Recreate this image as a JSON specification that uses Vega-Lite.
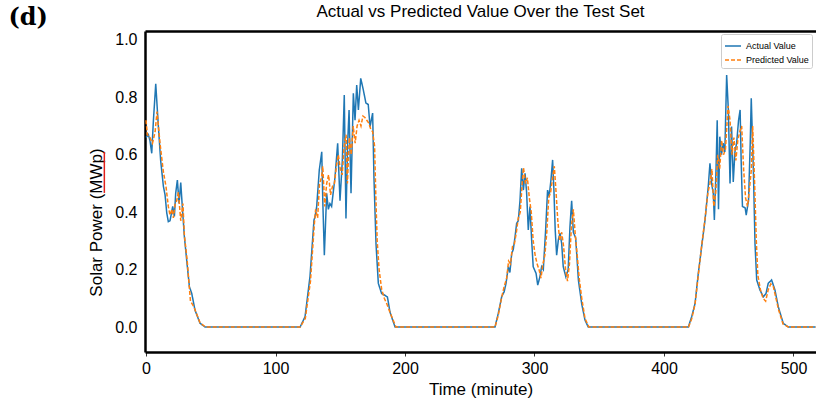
{
  "$schema": "https://vega.github.io/schema/vega-lite/v6.json",
  "width": 671,
  "height": 321,
  "autosize": {"type": "none"},
  "padding": {"left": 145, "top": 31, "right": 0, "bottom": 53},
  "background": "white",
  "config": {"view": {"stroke": null}, "font": "Liberation Sans"},
  "title": {"text": "Actual vs Predicted Value Over the Test Set", "fontSize": 17, "font": "Liberation Sans", "fontWeight": "normal", "color": "black", "offset": -15, "anchor": "middle", "frame": "group"},
  "datasets": {
    "series": [
      {"t":0,"v":0.66,"s":"Actual Value"},{"t":1.8,"v":0.67,"s":"Actual Value"},{"t":3,"v":0.65,"s":"Actual Value"},{"t":4.4,"v":0.605,"s":"Actual Value"},{"t":5.7,"v":0.72,"s":"Actual Value"},{"t":7.5,"v":0.847,"s":"Actual Value"},{"t":9.5,"v":0.7,"s":"Actual Value"},{"t":11.3,"v":0.58,"s":"Actual Value"},{"t":13.4,"v":0.49,"s":"Actual Value"},{"t":14.7,"v":0.46,"s":"Actual Value"},{"t":16,"v":0.397,"s":"Actual Value"},{"t":17.2,"v":0.367,"s":"Actual Value"},{"t":18.5,"v":0.37,"s":"Actual Value"},{"t":20.6,"v":0.42,"s":"Actual Value"},{"t":21.9,"v":0.385,"s":"Actual Value"},{"t":22.9,"v":0.466,"s":"Actual Value"},{"t":24.2,"v":0.512,"s":"Actual Value"},{"t":25.5,"v":0.43,"s":"Actual Value"},{"t":26.8,"v":0.503,"s":"Actual Value"},{"t":28,"v":0.42,"s":"Actual Value"},{"t":29.6,"v":0.315,"s":"Actual Value"},{"t":31.4,"v":0.233,"s":"Actual Value"},{"t":33.5,"v":0.14,"s":"Actual Value"},{"t":35.3,"v":0.117,"s":"Actual Value"},{"t":37.8,"v":0.059,"s":"Actual Value"},{"t":41.7,"v":0.013,"s":"Actual Value"},{"t":45.6,"v":0,"s":"Actual Value"},{"t":119,"v":0,"s":"Actual Value"},
      {"t":122.8,"v":0.036,"s":"Actual Value"},{"t":126.6,"v":0.175,"s":"Actual Value"},{"t":129.7,"v":0.373,"s":"Actual Value"},{"t":130.5,"v":0.384,"s":"Actual Value"},{"t":131.8,"v":0.42,"s":"Actual Value"},{"t":133.8,"v":0.547,"s":"Actual Value"},{"t":135.7,"v":0.61,"s":"Actual Value"},{"t":136.5,"v":0.44,"s":"Actual Value"},{"t":137.7,"v":0.25,"s":"Actual Value"},{"t":139.5,"v":0.466,"s":"Actual Value"},{"t":140.8,"v":0.41,"s":"Actual Value"},{"t":142,"v":0.43,"s":"Actual Value"},{"t":143.3,"v":0.42,"s":"Actual Value"},{"t":145.9,"v":0.52,"s":"Actual Value"},{"t":148,"v":0.64,"s":"Actual Value"},{"t":149.8,"v":0.44,"s":"Actual Value"},{"t":151.6,"v":0.58,"s":"Actual Value"},{"t":153.1,"v":0.808,"s":"Actual Value"},{"t":154.4,"v":0.378,"s":"Actual Value"},{"t":155.7,"v":0.64,"s":"Actual Value"},{"t":156.8,"v":0.756,"s":"Actual Value"},{"t":158.3,"v":0.466,"s":"Actual Value"},{"t":160.1,"v":0.814,"s":"Actual Value"},{"t":161.4,"v":0.72,"s":"Actual Value"},{"t":162.7,"v":0.843,"s":"Actual Value"},{"t":164,"v":0.756,"s":"Actual Value"},{"t":165.8,"v":0.866,"s":"Actual Value"},{"t":167.8,"v":0.826,"s":"Actual Value"},{"t":169.8,"v":0.78,"s":"Actual Value"},{"t":171.6,"v":0.775,"s":"Actual Value"},{"t":173,"v":0.698,"s":"Actual Value"},{"t":175,"v":0.745,"s":"Actual Value"},{"t":176,"v":0.524,"s":"Actual Value"},{"t":177.6,"v":0.29,"s":"Actual Value"},{"t":179.4,"v":0.152,"s":"Actual Value"},{"t":181.9,"v":0.117,"s":"Actual Value"},{"t":184.6,"v":0.11,"s":"Actual Value"},{"t":186.4,"v":0.105,"s":"Actual Value"},{"t":188.4,"v":0.052,"s":"Actual Value"},{"t":192.3,"v":0,"s":"Actual Value"},{"t":269.5,"v":0,"s":"Actual Value"},
      {"t":272,"v":0.047,"s":"Actual Value"},{"t":274.7,"v":0.106,"s":"Actual Value"},{"t":276.6,"v":0.123,"s":"Actual Value"},{"t":278,"v":0.152,"s":"Actual Value"},{"t":279.8,"v":0.21,"s":"Actual Value"},{"t":281,"v":0.19,"s":"Actual Value"},{"t":282.4,"v":0.256,"s":"Actual Value"},{"t":283.6,"v":0.27,"s":"Actual Value"},{"t":285,"v":0.315,"s":"Actual Value"},{"t":286.2,"v":0.361,"s":"Actual Value"},{"t":287.5,"v":0.37,"s":"Actual Value"},{"t":288.8,"v":0.44,"s":"Actual Value"},{"t":290.1,"v":0.553,"s":"Actual Value"},{"t":291.4,"v":0.477,"s":"Actual Value"},{"t":292.7,"v":0.535,"s":"Actual Value"},{"t":293.9,"v":0.47,"s":"Actual Value"},{"t":295.2,"v":0.338,"s":"Actual Value"},{"t":296.5,"v":0.42,"s":"Actual Value"},{"t":297.8,"v":0.303,"s":"Actual Value"},{"t":299,"v":0.21,"s":"Actual Value"},{"t":301.2,"v":0.187,"s":"Actual Value"},{"t":302.5,"v":0.146,"s":"Actual Value"},{"t":304.2,"v":0.175,"s":"Actual Value"},{"t":305.5,"v":0.21,"s":"Actual Value"},{"t":306.8,"v":0.2,"s":"Actual Value"},{"t":308.6,"v":0.338,"s":"Actual Value"},{"t":310.1,"v":0.477,"s":"Actual Value"},{"t":311.3,"v":0.454,"s":"Actual Value"},{"t":312.7,"v":0.512,"s":"Actual Value"},{"t":314,"v":0.582,"s":"Actual Value"},{"t":315,"v":0.477,"s":"Actual Value"},{"t":316,"v":0.338,"s":"Actual Value"},{"t":317.1,"v":0.25,"s":"Actual Value"},{"t":318.4,"v":0.303,"s":"Actual Value"},{"t":319.7,"v":0.327,"s":"Actual Value"},{"t":321,"v":0.29,"s":"Actual Value"},{"t":322.2,"v":0.21,"s":"Actual Value"},{"t":324.2,"v":0.175,"s":"Actual Value"},{"t":326,"v":0.2,"s":"Actual Value"},{"t":327.4,"v":0.35,"s":"Actual Value"},{"t":328.7,"v":0.44,"s":"Actual Value"},{"t":330,"v":0.33,"s":"Actual Value"},{"t":331.8,"v":0.31,"s":"Actual Value"},{"t":333.9,"v":0.164,"s":"Actual Value"},{"t":336.4,"v":0.082,"s":"Actual Value"},{"t":339,"v":0.024,"s":"Actual Value"},{"t":341.5,"v":0,"s":"Actual Value"},{"t":418.8,"v":0,"s":"Actual Value"},
      {"t":421.4,"v":0.036,"s":"Actual Value"},{"t":424,"v":0.082,"s":"Actual Value"},{"t":426.5,"v":0.187,"s":"Actual Value"},{"t":429.1,"v":0.28,"s":"Actual Value"},{"t":431.7,"v":0.373,"s":"Actual Value"},{"t":434.2,"v":0.49,"s":"Actual Value"},{"t":435.5,"v":0.57,"s":"Actual Value"},{"t":436.8,"v":0.5,"s":"Actual Value"},{"t":438.1,"v":0.465,"s":"Actual Value"},{"t":438.9,"v":0.373,"s":"Actual Value"},{"t":440.2,"v":0.55,"s":"Actual Value"},{"t":441.1,"v":0.72,"s":"Actual Value"},{"t":442.1,"v":0.41,"s":"Actual Value"},{"t":443.1,"v":0.663,"s":"Actual Value"},{"t":444.4,"v":0.6,"s":"Actual Value"},{"t":445.7,"v":0.64,"s":"Actual Value"},{"t":447,"v":0.61,"s":"Actual Value"},{"t":448.4,"v":0.878,"s":"Actual Value"},{"t":449.7,"v":0.756,"s":"Actual Value"},{"t":451,"v":0.5,"s":"Actual Value"},{"t":452.2,"v":0.698,"s":"Actual Value"},{"t":453.5,"v":0.505,"s":"Actual Value"},{"t":454.8,"v":0.61,"s":"Actual Value"},{"t":456.1,"v":0.64,"s":"Actual Value"},{"t":457.6,"v":0.72,"s":"Actual Value"},{"t":458.8,"v":0.756,"s":"Actual Value"},{"t":459.6,"v":0.58,"s":"Actual Value"},{"t":460.6,"v":0.42,"s":"Actual Value"},{"t":462.7,"v":0.415,"s":"Actual Value"},{"t":463.5,"v":0.39,"s":"Actual Value"},{"t":465.3,"v":0.44,"s":"Actual Value"},{"t":466.6,"v":0.64,"s":"Actual Value"},{"t":467.4,"v":0.797,"s":"Actual Value"},{"t":469.1,"v":0.535,"s":"Actual Value"},{"t":470.3,"v":0.29,"s":"Actual Value"},{"t":471.6,"v":0.164,"s":"Actual Value"},{"t":474.1,"v":0.129,"s":"Actual Value"},{"t":476.7,"v":0.105,"s":"Actual Value"},{"t":478.8,"v":0.117,"s":"Actual Value"},{"t":480.5,"v":0.152,"s":"Actual Value"},{"t":483.1,"v":0.164,"s":"Actual Value"},{"t":485.7,"v":0.129,"s":"Actual Value"},{"t":488.3,"v":0.07,"s":"Actual Value"},{"t":492.1,"v":0.013,"s":"Actual Value"},{"t":496,"v":0,"s":"Actual Value"},{"t":517,"v":0,"s":"Actual Value"},
      {"t":0,"v":0.72,"s":"Predicted Value"},{"t":1,"v":0.67,"s":"Predicted Value"},{"t":3,"v":0.66,"s":"Predicted Value"},{"t":5,"v":0.64,"s":"Predicted Value"},{"t":7,"v":0.68,"s":"Predicted Value"},{"t":8.5,"v":0.75,"s":"Predicted Value"},{"t":10.8,"v":0.64,"s":"Predicted Value"},{"t":13.4,"v":0.54,"s":"Predicted Value"},{"t":15.4,"v":0.49,"s":"Predicted Value"},{"t":17.2,"v":0.42,"s":"Predicted Value"},{"t":18.5,"v":0.39,"s":"Predicted Value"},{"t":20,"v":0.41,"s":"Predicted Value"},{"t":21.1,"v":0.38,"s":"Predicted Value"},{"t":22.5,"v":0.43,"s":"Predicted Value"},{"t":23.7,"v":0.44,"s":"Predicted Value"},{"t":25,"v":0.47,"s":"Predicted Value"},{"t":26.8,"v":0.37,"s":"Predicted Value"},{"t":28.5,"v":0.43,"s":"Predicted Value"},{"t":29.6,"v":0.32,"s":"Predicted Value"},{"t":31.8,"v":0.23,"s":"Predicted Value"},{"t":34.3,"v":0.09,"s":"Predicted Value"},{"t":37,"v":0.07,"s":"Predicted Value"},{"t":41.7,"v":0.015,"s":"Predicted Value"},{"t":46,"v":0,"s":"Predicted Value"},{"t":119,"v":0,"s":"Predicted Value"},
      {"t":123,"v":0.03,"s":"Predicted Value"},{"t":127,"v":0.16,"s":"Predicted Value"},{"t":130,"v":0.36,"s":"Predicted Value"},{"t":131,"v":0.41,"s":"Predicted Value"},{"t":132.5,"v":0.38,"s":"Predicted Value"},{"t":134,"v":0.5,"s":"Predicted Value"},{"t":135.5,"v":0.52,"s":"Predicted Value"},{"t":136.5,"v":0.56,"s":"Predicted Value"},{"t":138,"v":0.42,"s":"Predicted Value"},{"t":139.5,"v":0.5,"s":"Predicted Value"},{"t":141,"v":0.53,"s":"Predicted Value"},{"t":142.5,"v":0.46,"s":"Predicted Value"},{"t":144,"v":0.49,"s":"Predicted Value"},{"t":145.5,"v":0.5,"s":"Predicted Value"},{"t":147,"v":0.56,"s":"Predicted Value"},{"t":148.5,"v":0.6,"s":"Predicted Value"},{"t":150,"v":0.55,"s":"Predicted Value"},{"t":151.5,"v":0.53,"s":"Predicted Value"},{"t":153,"v":0.63,"s":"Predicted Value"},{"t":154.5,"v":0.67,"s":"Predicted Value"},{"t":155.5,"v":0.5,"s":"Predicted Value"},{"t":157,"v":0.66,"s":"Predicted Value"},{"t":158.5,"v":0.6,"s":"Predicted Value"},{"t":160,"v":0.7,"s":"Predicted Value"},{"t":161.5,"v":0.64,"s":"Predicted Value"},{"t":163,"v":0.7,"s":"Predicted Value"},{"t":164.5,"v":0.72,"s":"Predicted Value"},{"t":166,"v":0.7,"s":"Predicted Value"},{"t":167.5,"v":0.735,"s":"Predicted Value"},{"t":169,"v":0.73,"s":"Predicted Value"},{"t":170.5,"v":0.72,"s":"Predicted Value"},{"t":172,"v":0.71,"s":"Predicted Value"},{"t":173.5,"v":0.69,"s":"Predicted Value"},{"t":175,"v":0.68,"s":"Predicted Value"},{"t":176.5,"v":0.63,"s":"Predicted Value"},{"t":177.5,"v":0.45,"s":"Predicted Value"},{"t":178.5,"v":0.3,"s":"Predicted Value"},{"t":180,"v":0.2,"s":"Predicted Value"},{"t":182,"v":0.13,"s":"Predicted Value"},{"t":184,"v":0.1,"s":"Predicted Value"},{"t":186,"v":0.08,"s":"Predicted Value"},{"t":188.5,"v":0.05,"s":"Predicted Value"},{"t":193,"v":0,"s":"Predicted Value"},{"t":269.5,"v":0,"s":"Predicted Value"},
      {"t":272,"v":0.04,"s":"Predicted Value"},{"t":274.5,"v":0.1,"s":"Predicted Value"},{"t":276.5,"v":0.14,"s":"Predicted Value"},{"t":278.5,"v":0.17,"s":"Predicted Value"},{"t":280,"v":0.23,"s":"Predicted Value"},{"t":281.5,"v":0.22,"s":"Predicted Value"},{"t":283,"v":0.28,"s":"Predicted Value"},{"t":284.5,"v":0.29,"s":"Predicted Value"},{"t":286,"v":0.33,"s":"Predicted Value"},{"t":287.5,"v":0.38,"s":"Predicted Value"},{"t":289,"v":0.4,"s":"Predicted Value"},{"t":290.5,"v":0.5,"s":"Predicted Value"},{"t":291.5,"v":0.555,"s":"Predicted Value"},{"t":293,"v":0.5,"s":"Predicted Value"},{"t":294.5,"v":0.52,"s":"Predicted Value"},{"t":296,"v":0.45,"s":"Predicted Value"},{"t":297.5,"v":0.4,"s":"Predicted Value"},{"t":299,"v":0.3,"s":"Predicted Value"},{"t":300.5,"v":0.25,"s":"Predicted Value"},{"t":302,"v":0.22,"s":"Predicted Value"},{"t":303.5,"v":0.2,"s":"Predicted Value"},{"t":305,"v":0.17,"s":"Predicted Value"},{"t":306.5,"v":0.22,"s":"Predicted Value"},{"t":308,"v":0.25,"s":"Predicted Value"},{"t":309.5,"v":0.33,"s":"Predicted Value"},{"t":311,"v":0.45,"s":"Predicted Value"},{"t":312.5,"v":0.47,"s":"Predicted Value"},{"t":314,"v":0.52,"s":"Predicted Value"},{"t":315.3,"v":0.56,"s":"Predicted Value"},{"t":316.5,"v":0.48,"s":"Predicted Value"},{"t":318,"v":0.37,"s":"Predicted Value"},{"t":319.5,"v":0.3,"s":"Predicted Value"},{"t":321,"v":0.33,"s":"Predicted Value"},{"t":322.5,"v":0.28,"s":"Predicted Value"},{"t":324,"v":0.2,"s":"Predicted Value"},{"t":325.5,"v":0.16,"s":"Predicted Value"},{"t":327,"v":0.22,"s":"Predicted Value"},{"t":328.5,"v":0.35,"s":"Predicted Value"},{"t":330,"v":0.41,"s":"Predicted Value"},{"t":331.5,"v":0.32,"s":"Predicted Value"},{"t":333,"v":0.25,"s":"Predicted Value"},{"t":334.5,"v":0.17,"s":"Predicted Value"},{"t":336.5,"v":0.1,"s":"Predicted Value"},{"t":339,"v":0.03,"s":"Predicted Value"},{"t":342,"v":0,"s":"Predicted Value"},{"t":419,"v":0,"s":"Predicted Value"},
      {"t":421.5,"v":0.03,"s":"Predicted Value"},{"t":424,"v":0.08,"s":"Predicted Value"},{"t":426.5,"v":0.18,"s":"Predicted Value"},{"t":429,"v":0.28,"s":"Predicted Value"},{"t":431.5,"v":0.37,"s":"Predicted Value"},{"t":434,"v":0.47,"s":"Predicted Value"},{"t":435.5,"v":0.5,"s":"Predicted Value"},{"t":437,"v":0.55,"s":"Predicted Value"},{"t":438.5,"v":0.42,"s":"Predicted Value"},{"t":440,"v":0.47,"s":"Predicted Value"},{"t":441.5,"v":0.6,"s":"Predicted Value"},{"t":443,"v":0.55,"s":"Predicted Value"},{"t":444.5,"v":0.65,"s":"Predicted Value"},{"t":446,"v":0.6,"s":"Predicted Value"},{"t":447.5,"v":0.62,"s":"Predicted Value"},{"t":449.5,"v":0.77,"s":"Predicted Value"},{"t":451,"v":0.72,"s":"Predicted Value"},{"t":452.5,"v":0.6,"s":"Predicted Value"},{"t":454,"v":0.66,"s":"Predicted Value"},{"t":455.5,"v":0.58,"s":"Predicted Value"},{"t":457,"v":0.65,"s":"Predicted Value"},{"t":458.5,"v":0.68,"s":"Predicted Value"},{"t":460,"v":0.7,"s":"Predicted Value"},{"t":461.5,"v":0.55,"s":"Predicted Value"},{"t":463,"v":0.45,"s":"Predicted Value"},{"t":464.5,"v":0.42,"s":"Predicted Value"},{"t":466,"v":0.48,"s":"Predicted Value"},{"t":467.5,"v":0.55,"s":"Predicted Value"},{"t":468.5,"v":0.7,"s":"Predicted Value"},{"t":470,"v":0.5,"s":"Predicted Value"},{"t":471.3,"v":0.3,"s":"Predicted Value"},{"t":472.5,"v":0.18,"s":"Predicted Value"},{"t":474.5,"v":0.13,"s":"Predicted Value"},{"t":476.5,"v":0.1,"s":"Predicted Value"},{"t":478.5,"v":0.09,"s":"Predicted Value"},{"t":480.5,"v":0.13,"s":"Predicted Value"},{"t":482.5,"v":0.15,"s":"Predicted Value"},{"t":484.5,"v":0.14,"s":"Predicted Value"},{"t":486.5,"v":0.1,"s":"Predicted Value"},{"t":488.5,"v":0.06,"s":"Predicted Value"},{"t":492,"v":0.01,"s":"Predicted Value"},{"t":496,"v":0,"s":"Predicted Value"},{"t":517,"v":0,"s":"Predicted Value"}
    ],
    "panel": [{"label": "(d)", "x": -91, "y": 1.077}],
    "mark": [{"x": -32.2, "y1": 0.61, "y2": 0.467}]
  },
  "resolve": {"axis": {"x": "independent"}},
  "layer": [
    {
      "data": {"name": "series"},
      "mark": {"type": "line", "strokeWidth": 1.5, "clip": true},
      "encoding": {
        "x": {"field": "t", "type": "quantitative",
              "scale": {"domain": [-0.8, 517.4], "nice": false, "zero": false},
              "axis": {"orient": "bottom", "values": [0, 100, 200, 300, 400, 500], "title": "Time (minute)", "grid": false,
                       "domainColor": "black", "domainWidth": 2.5, "tickColor": "#333333", "tickSize": 4, "tickWidth": 1,
                       "labelFontSize": 16, "labelColor": "black", "labelFont": "Liberation Sans", "labelPadding": 4,
                       "titleFontSize": 17, "titleFontWeight": "normal", "titleColor": "black", "titleFont": "Liberation Sans", "titlePadding": 5}},
        "y": {"field": "v", "type": "quantitative",
              "scale": {"domain": [-0.087, 1.031], "nice": false, "zero": false},
              "axis": {"values": [0, 0.2, 0.4, 0.6, 0.8, 1.0], "format": ".1f", "title": "Solar Power (MWp)", "grid": false,
                       "domainColor": "black", "domainWidth": 2.5, "ticks": false, "labelPadding": 8,
                       "labelFontSize": 16, "labelColor": "black", "labelFont": "Liberation Sans",
                       "titleFontSize": 17, "titleFontWeight": "normal", "titleColor": "black", "titleFont": "Liberation Sans",
                       "titleX": -44, "titleY": 191, "titleBaseline": "alphabetic", "titleAlign": "center"}},
        "color": {"field": "s", "type": "nominal",
                  "scale": {"domain": ["Actual Value", "Predicted Value"], "range": ["#1f77b4", "#ff7f0e"]},
                  "legend": {"title": null, "orient": "none", "legendX": 576, "legendY": 3, "fillColor": "white", "strokeColor": "#cccccc",
                             "cornerRadius": 2, "padding": 3, "labelFontSize": 9, "labelFont": "Liberation Sans", "labelColor": "black",
                             "symbolType": "stroke", "symbolSize": 256, "symbolStrokeWidth": 1.5, "rowPadding": -2, "labelOffset": 4}},
        "strokeDash": {"field": "s", "type": "nominal",
                       "scale": {"domain": ["Actual Value", "Predicted Value"], "range": [[1, 0], [4, 2]]},
                       "legend": {"title": null}}
      }
    },
    {
      "data": {"name": "panel"},
      "mark": {"type": "text", "font": "DejaVu Serif", "fontWeight": "bold", "fontSize": 24, "align": "center", "baseline": "middle", "color": "black"},
      "encoding": {
        "x": {"field": "x", "type": "quantitative",
              "axis": {"orient": "top", "labels": false, "ticks": false, "title": null, "grid": false, "domainColor": "black", "domainWidth": 2.5}},
        "y": {"field": "y", "type": "quantitative"},
        "text": {"field": "label"}
      }
    },
    {
      "data": {"name": "mark"},
      "mark": {"type": "rule", "color": "#e0201c", "strokeWidth": 1.5},
      "encoding": {
        "x": {"field": "x", "type": "quantitative", "axis": null},
        "y": {"field": "y1", "type": "quantitative"},
        "y2": {"field": "y2"}
      }
    }
  ]
}
